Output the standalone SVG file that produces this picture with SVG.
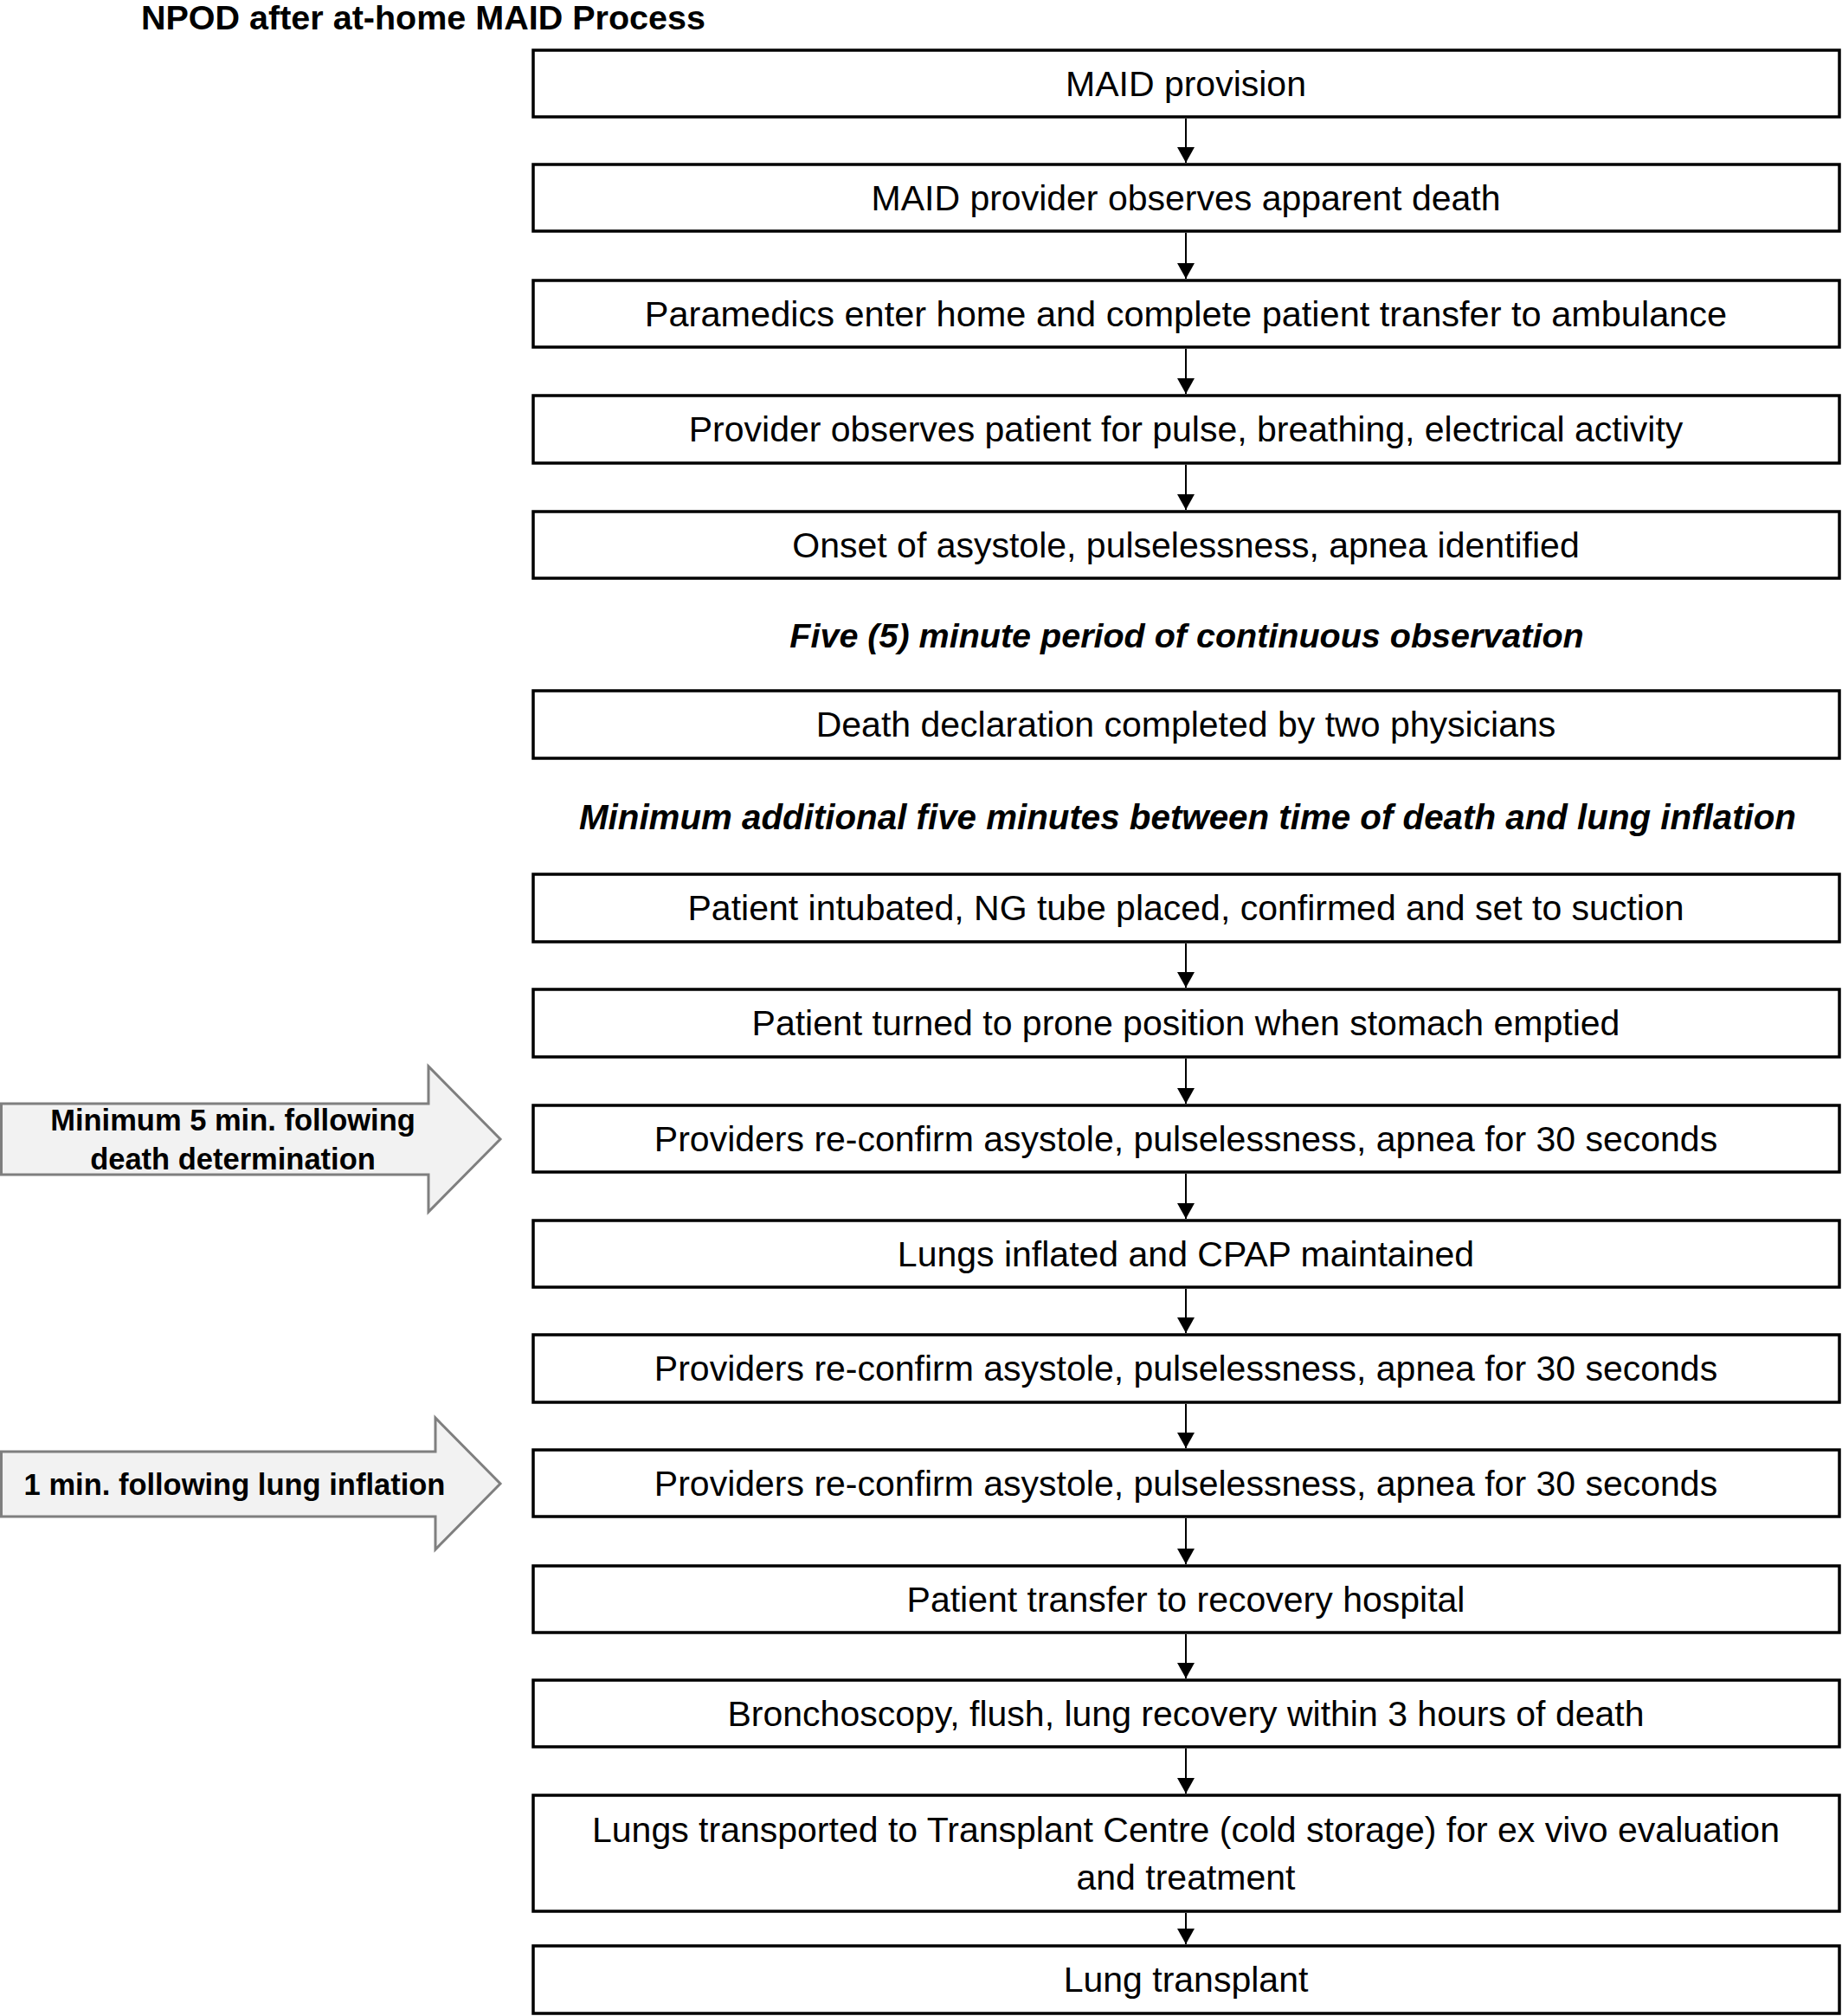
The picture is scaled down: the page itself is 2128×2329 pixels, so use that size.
<svg xmlns="http://www.w3.org/2000/svg" width="2128" height="2329" viewBox="0 0 2128 2329">
<style>
  .box { fill: #ffffff; stroke: #000000; stroke-width: 3.5; }
  .t { font-family: "Liberation Sans", Arial, sans-serif; font-size: 41px; fill: #000000; text-anchor: middle; }
  .title { font-family: "Liberation Sans", Arial, sans-serif; font-size: 39.5px; font-weight: bold; fill: #000000; }
  .note { font-family: "Liberation Sans", Arial, sans-serif; font-size: 39.5px; font-weight: bold; font-style: italic; fill: #000000; text-anchor: middle; }
  .side { fill: #f2f2f2; stroke: #7f7f7f; stroke-width: 3; }
  .sidet { font-family: "Liberation Sans", Arial, sans-serif; font-size: 34.5px; font-weight: bold; fill: #000000; text-anchor: middle; }
  .conn { stroke: #000000; stroke-width: 2; fill: none; marker-end: url(#ah); }
</style>
<defs>
  <marker id="ah" markerUnits="userSpaceOnUse" markerWidth="18" markerHeight="20" viewBox="0 0 18 20" refX="18" refY="10" orient="auto">
    <path d="M0,0 L18,10 L0,20 Z" fill="#000000"/>
  </marker>
</defs>
<rect width="2128" height="2329" fill="#ffffff"/>

<text class="title" x="163" y="34">NPOD after at-home MAID Process</text>

<g id="n1"><rect class="box" x="616" y="58" width="1509" height="77"/><text class="t" x="1370" y="111">MAID provision</text></g>
<g id="n2"><rect class="box" x="616" y="190" width="1509" height="77"/><text class="t" x="1370" y="243">MAID provider observes apparent death</text></g>
<g id="n3"><rect class="box" x="616" y="324" width="1509" height="77"/><text class="t" x="1370" y="377" style="font-size:41.5px">Paramedics enter home and complete patient transfer to ambulance</text></g>
<g id="n4"><rect class="box" x="616" y="457" width="1509" height="78"/><text class="t" x="1370" y="510">Provider observes patient for pulse, breathing, electrical activity</text></g>
<g id="n5"><rect class="box" x="616" y="591" width="1509" height="77"/><text class="t" x="1370" y="644">Onset of asystole, pulselessness, apnea identified</text></g>
<text id="note1" class="note" x="1371" y="748">Five (5) minute period of continuous observation</text>
<g id="n6"><rect class="box" x="616" y="798" width="1509" height="78"/><text class="t" x="1370" y="851">Death declaration completed by two physicians</text></g>
<text id="note2" class="note" x="1372" y="958" style="font-size:40.3px">Minimum additional five minutes between time of death and lung inflation</text>
<g id="n7"><rect class="box" x="616" y="1010" width="1509" height="78"/><text class="t" x="1370" y="1063">Patient intubated, NG tube placed, confirmed and set to suction</text></g>
<g id="n8"><rect class="box" x="616" y="1143" width="1509" height="78"/><text class="t" x="1370" y="1196">Patient turned to prone position when stomach emptied</text></g>
<g id="n9"><rect class="box" x="616" y="1277" width="1509" height="77"/><text class="t" x="1370" y="1330">Providers re-confirm asystole, pulselessness, apnea for 30 seconds</text></g>
<g id="n10"><rect class="box" x="616" y="1410" width="1509" height="77"/><text class="t" x="1370" y="1463">Lungs inflated and CPAP maintained</text></g>
<g id="n11"><rect class="box" x="616" y="1542" width="1509" height="78"/><text class="t" x="1370" y="1595">Providers re-confirm asystole, pulselessness, apnea for 30 seconds</text></g>
<g id="n12"><rect class="box" x="616" y="1675" width="1509" height="77"/><text class="t" x="1370" y="1728">Providers re-confirm asystole, pulselessness, apnea for 30 seconds</text></g>
<g id="n13"><rect class="box" x="616" y="1809" width="1509" height="77"/><text class="t" x="1370" y="1862">Patient transfer to recovery hospital</text></g>
<g id="n14"><rect class="box" x="616" y="1941" width="1509" height="77"/><text class="t" x="1370" y="1994">Bronchoscopy, flush, lung recovery within 3 hours of death</text></g>
<g id="n15"><rect class="box" x="616" y="2074" width="1509" height="134"/><text class="t" x="1370" y="2128">Lungs transported to Transplant Centre (cold storage) for ex vivo evaluation</text><text class="t" x="1370" y="2183">and treatment</text></g>
<g id="n16"><rect class="box" x="616" y="2248" width="1509" height="78"/><text class="t" x="1370" y="2301">Lung transplant</text></g>

<g id="side1">
  <polygon class="side" points="1.5,1275 495,1275 495,1232 578,1316 495,1400 495,1357 1.5,1357"/>
  <text class="sidet" x="269" y="1306">Minimum 5 min. following</text>
  <text class="sidet" x="269" y="1351">death determination</text>
</g>
<g id="side2">
  <polygon class="side" points="1.5,1677 503,1677 503,1638 578,1714 503,1790 503,1752 1.5,1752"/>
  <text class="sidet" x="271" y="1727">1 min. following lung inflation</text>
</g>

<g id="connectors">
  <line class="conn" x1="1370" y1="137" x2="1370" y2="188"/>
  <line class="conn" x1="1370" y1="269" x2="1370" y2="322"/>
  <line class="conn" x1="1370" y1="403" x2="1370" y2="455"/>
  <line class="conn" x1="1370" y1="537" x2="1370" y2="589"/>
  <line class="conn" x1="1370" y1="1090" x2="1370" y2="1141"/>
  <line class="conn" x1="1370" y1="1223" x2="1370" y2="1275"/>
  <line class="conn" x1="1370" y1="1356" x2="1370" y2="1408"/>
  <line class="conn" x1="1370" y1="1489" x2="1370" y2="1540"/>
  <line class="conn" x1="1370" y1="1622" x2="1370" y2="1673"/>
  <line class="conn" x1="1370" y1="1754" x2="1370" y2="1807"/>
  <line class="conn" x1="1370" y1="1888" x2="1370" y2="1939"/>
  <line class="conn" x1="1370" y1="2020" x2="1370" y2="2072"/>
  <line class="conn" x1="1370" y1="2210" x2="1370" y2="2246"/>
</g>
</svg>
